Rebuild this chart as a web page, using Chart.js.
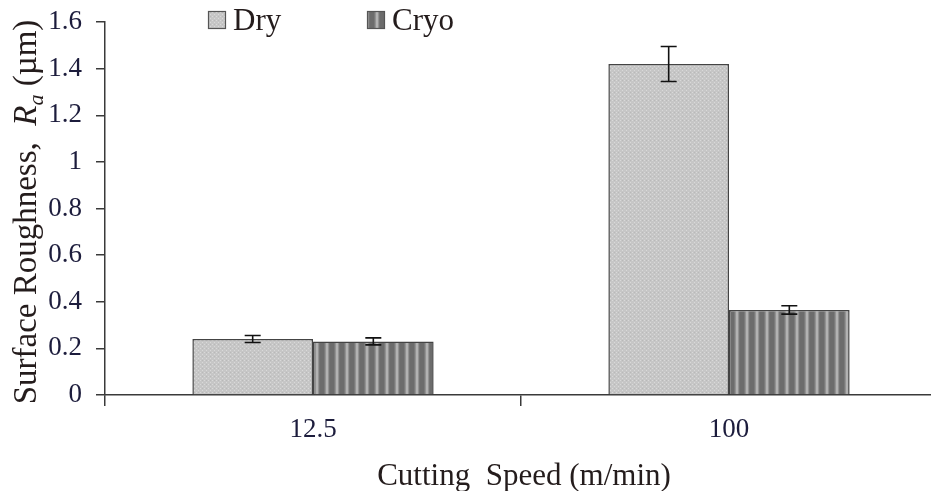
<!DOCTYPE html>
<html>
<head>
<meta charset="utf-8">
<script src="https://cdn.jsdelivr.net/npm/chart.js@4/dist/chart.umd.min.js"></script>
<style>
    html, body { margin: 0; padding: 0; background: #fff; overflow: hidden; }
    #wrap { width: 937px; height: 491px; }
</style>
</head>
<body>
<div id="wrap"><canvas id="roughness"></canvas></div>
<script>
// data
const speeds = ['12.5', '100'];
const dryRa = [0.24, 1.42];
const dryErr = [0.015, 0.075];
const cryoRa = [0.23, 0.365];
const cryoErr = [0.015, 0.018];
const yTicks = [0, 0.2, 0.4, 0.6, 0.8, 1, 1.2, 1.4, 1.6];

const tickColor = '#1c1c3c';
const titleColor = '#241c1c';
const axisColor = '#3a3a3a';

// fill patterns
function makeDryPattern() {
    const c = document.createElement('canvas');
    c.width = 4; c.height = 4;
    const g = c.getContext('2d');
    g.fillStyle = '#c6c6c6';
    g.fillRect(0, 0, 4, 4);
    g.fillStyle = '#d9d9d9';
    g.fillRect(0, 0, 1, 1);
    g.fillRect(2, 2, 1, 1);
    g.fillStyle = '#b9b9b9';
    g.fillRect(2, 0, 1, 1);
    return g.createPattern(c, 'repeat');
}

function makeCryoPattern() {
    const c = document.createElement('canvas');
    c.width = 10; c.height = 2;
    const g = c.getContext('2d');
    const cols = ['#6c6c6c', '#6c6c6c', '#6c6c6c', '#6c6c6c', '#7a7a7a', '#929292', '#b2b2b2', '#b2b2b2', '#929292', '#747474'];
    cols.forEach((col, i) => {
        g.fillStyle = col;
        g.fillRect(i, 0, 1, 2);
    });
    return g.createPattern(c, 'repeat');
}

const dryFill = makeDryPattern();
const cryoFill = makeCryoPattern();

// error bars drawn through the y scale
const errorBars = {
    id: 'errorBars',
    afterDatasetsDraw(chart) {
        const ctx = chart.ctx;
        const y = chart.scales.y;
        ctx.save();
        ctx.strokeStyle = '#111';
        ctx.lineWidth = 1.6;
        chart.data.datasets.forEach((ds, i) => {
            const meta = chart.getDatasetMeta(i);
            meta.data.forEach((bar, j) => {
                const v = ds.data[j], e = ds.errors[j];
                const top = y.getPixelForValue(v + e);
                const bot = y.getPixelForValue(v - e);
                const half = 8;
                ctx.beginPath();
                ctx.moveTo(bar.x, top); ctx.lineTo(bar.x, bot);
                ctx.moveTo(bar.x - half, top); ctx.lineTo(bar.x + half, top);
                ctx.moveTo(bar.x - half, bot); ctx.lineTo(bar.x + half, bot);
                ctx.stroke();
            });
        });
        ctx.restore();
    }
};

// legend and axis titles (Ra needs italic + subscript)
const labelsPlugin = {
    id: 'labelsPlugin',
    afterDraw(chart) {
        const ctx = chart.ctx;
        ctx.save();

        // legend
        const items = [
            { label: 'Dry', fill: dryFill, x: 208 },
            { label: 'Cryo', fill: cryoFill, x: 367 }
        ];
        items.forEach(it => {
            ctx.fillStyle = it.fill;
            ctx.fillRect(it.x, 11, 18, 18);
            ctx.strokeStyle = '#555';
            ctx.lineWidth = 1.2;
            ctx.strokeRect(it.x + 0.5, 11.5, 17, 17);
            ctx.fillStyle = titleColor;
            ctx.font = '31px "Liberation Serif", "Times New Roman", serif';
            ctx.textBaseline = 'alphabetic';
            ctx.textAlign = 'left';
            ctx.fillText(it.label, it.x + 25, 30);
        });

        // x title
        ctx.font = '31px "Liberation Serif", "Times New Roman", serif';
        ctx.fillStyle = titleColor;
        ctx.textAlign = 'center';
        ctx.fillText('Cutting  Speed (m/min)', 524, 485);

        // y title, rotated
        ctx.translate(36, 212);
        ctx.rotate(-Math.PI / 2);
        const regular = '33px "Liberation Serif", "Times New Roman", serif';
        const italic = 'italic 33px "Liberation Serif", "Times New Roman", serif';
        const sub = 'italic 22px "Liberation Serif", "Times New Roman", serif';
        const parts = [
            { t: 'Surface Roughness,  ', f: regular, dy: 0 },
            { t: 'R', f: italic, dy: 0 },
            { t: 'a', f: sub, dy: 7 },
            { t: ' (\u00b5m)', f: regular, dy: 0 }
        ];
        let total = 0;
        parts.forEach(p => { ctx.font = p.f; total += ctx.measureText(p.t).width; });
        let x = -total / 2;
        ctx.textAlign = 'left';
        parts.forEach(p => {
            ctx.font = p.f;
            ctx.fillText(p.t, x, p.dy);
            x += ctx.measureText(p.t).width;
        });
        ctx.restore();
    }
};

new Chart(document.getElementById('roughness'), {
    type: 'bar',
    data: {
        labels: speeds,
        datasets: [
            {
                label: 'Dry',
                data: dryRa,
                errors: dryErr,
                backgroundColor: dryFill,
                borderColor: '#444',
                borderWidth: 1.5,
                borderSkipped: 'bottom'
            },
            {
                label: 'Cryo',
                data: cryoRa,
                errors: cryoErr,
                backgroundColor: cryoFill,
                borderColor: '#444',
                borderWidth: 1.5,
                borderSkipped: 'bottom'
            }
        ]
    },
    options: {
        responsive: true,
        maintainAspectRatio: false,
        animation: false,
        layout: { padding: { top: 22, right: 0, left: 0, bottom: 0 } },
        datasets: {
            bar: { barPercentage: 1, categoryPercentage: 0.58 }
        },
        plugins: {
            legend: { display: false },
            tooltip: { enabled: false }
        },
        scales: {
            x: {
                grid: {
                    display: true,
                    offset: true,
                    drawOnChartArea: false,
                    tickLength: 11,
                    color: axisColor,
                    lineWidth: 1.5
                },
                border: { color: axisColor, width: 1.5 },
                ticks: {
                    color: tickColor,
                    padding: 8,
                    font: { family: '"Liberation Serif", "Times New Roman", serif', size: 27 }
                },
                afterFit(scale) {
                    scale.height = 96;
                    scale.paddingLeft = 0;
                    scale.paddingRight = 0;
                }
            },
            y: {
                min: 0,
                max: 1.6,
                afterBuildTicks(scale) {
                    scale.ticks = yTicks.map(v => ({ value: v }));
                },
                grid: {
                    display: true,
                    drawOnChartArea: false,
                    tickLength: 9,
                    color: axisColor,
                    lineWidth: 1.5
                },
                border: { color: axisColor, width: 1.5 },
                ticks: {
                    color: tickColor,
                    padding: 14,
                    font: { family: '"Liberation Serif", "Times New Roman", serif', size: 27 },
                    callback: v => String(v)
                },
                afterFit(scale) {
                    scale.width = 105;
                    scale.paddingTop = 0;
                    scale.paddingBottom = 0;
                }
            }
        }
    },
    plugins: [errorBars, labelsPlugin]
});
</script>
</body>
</html>
